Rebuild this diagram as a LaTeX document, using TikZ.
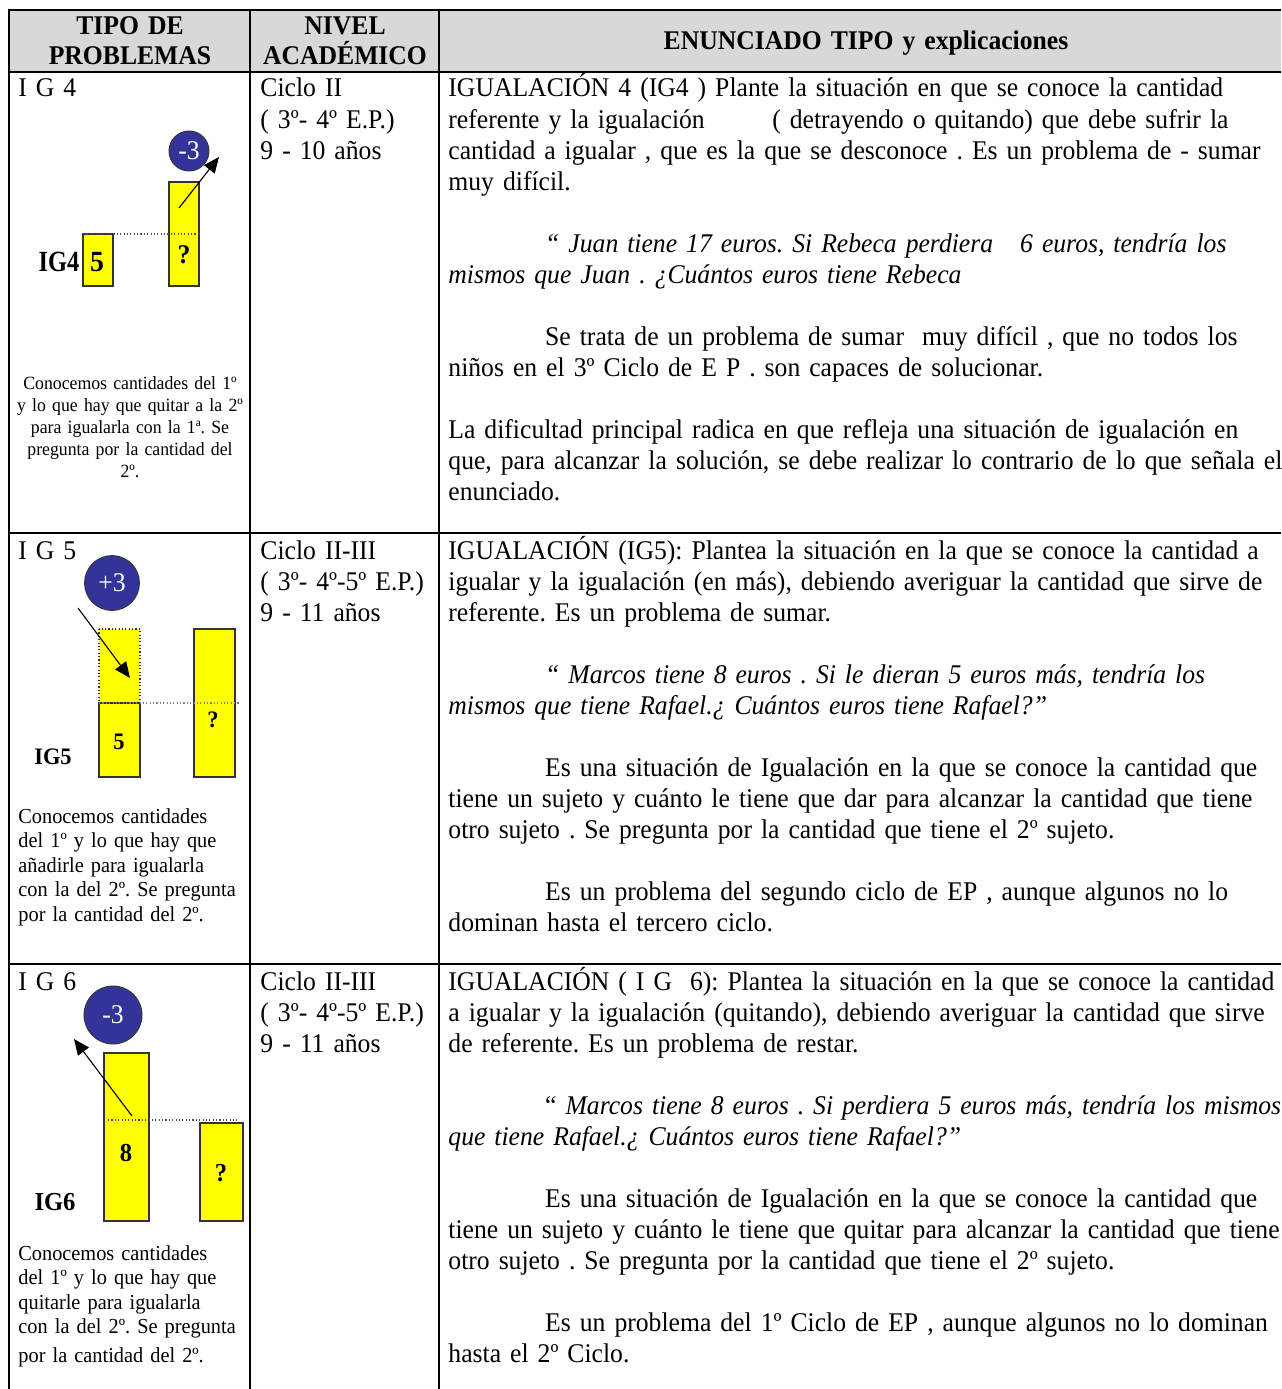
\documentclass[tikz,border=0pt]{standalone}
\usepackage{fontspec}
\setmainfont{Liberation Serif}[FakeStretch=0.95]
\usetikzlibrary{arrows.meta}
\definecolor{headgray}{RGB}{216,216,216}
\definecolor{coinblue}{RGB}{51,51,153}
\definecolor{baryellow}{RGB}{255,255,0}
\newcommand{\sangria}{\hspace*{43pt}}
\frenchspacing

\begin{document}
\begin{tikzpicture}[x=0.4444pt,y=-0.4444pt,
  rule/.style={line width=1.2pt},
  txt/.style={anchor=base west,align=left,text width=400pt,inner sep=0pt,font=\fontsize{12}{13.8}\selectfont},
  head/.style={anchor=base,align=center,text width=200pt,inner sep=0pt,font=\fontsize{12}{13.3}\selectfont\bfseries},
  bar/.style={draw=black!80,fill=baryellow,line width=0.5pt},
  coin/.style={circle,draw=black!80,fill=coinblue,text=white,inner sep=0pt,font=\fontsize{12}{12}\selectfont},
  num/.style={inner sep=0pt,font=\fontsize{12}{12}\selectfont\bfseries},
  level/.style={densely dotted,line width=0.5pt,black!70},
  push/.style={-{Triangle[length=7pt,width=6pt]},line width=0.5pt}]
\useasboundingbox (0,0) rectangle (1281,1389);

% Cabecera
\fill[headgray] (9,10) rectangle (1281,72);
\node[head] (h1) at (130,35) {TIPO DE\\PROBLEMAS};
\node[head] (h2) at (345,35) {NIVEL\\ACADÉMICO};
\node[head] (h3) at (866,50) {ENUNCIADO TIPO y explicaciones};

% Rejilla
\draw[rule] (1281,10) -- (9,10) -- (9,1389);
\draw[rule] (250,10) -- (250,1389);
\draw[rule] (439,10) -- (439,1389);
\draw[rule] (9,72) -- (1281,72);
\draw[rule] (9,533) -- (1281,533);
\draw[rule] (9,964) -- (1281,964);

% IG4
\node[txt] (t4) at (18,97) {I G 4};
\node[coin,minimum size=17.8pt] (c4) at (189,151) {-3};
\draw[bar] (83,234) rectangle (113,286);
\draw[bar] (169,182) rectangle (199,286);
\draw[level] (83,234) -- (199,234);
\node[num,font=\fontsize{13}{13}\selectfont\bfseries] (n4a) at (97,262) {5};
\node[num] (n4b) at (184,255) {?};
\node[num,font=\fontsize{13}{13}\selectfont\bfseries] (g4) at (59,262) {\scalebox{0.88}[1]{IG4}};
\coordinate (a4s) at (179,208);
\coordinate (a4e) at (219,157);
\draw[push] (a4s) -- (a4e);
\node[anchor=base,align=center,text width=110pt,inner sep=0pt,font=\fontsize{8.3}{9.8}\selectfont] (k4) at (130,389)
  {Conocemos cantidades del 1º\\y lo que hay que quitar a la 2º\\para igualarla con la 1ª. Se\\pregunta por la cantidad del\\2º.};
\node[txt] (l4) at (260,97) {Ciclo II\\( 3º- 4º E.P.)\\9 - 10 años};
\node[txt] (e4) at (448,97) {IGUALACIÓN 4 (IG4 ) Plante la situación en que se conoce la cantidad\\
referente y la igualación\hspace{26pt} ( detrayendo o quitando) que debe sufrir la\\
cantidad a igualar , que es la que se desconoce . Es un problema de - sumar\\
muy difícil.\\[13.8pt]
\sangria\textit{“ Juan tiene 17 euros. Si Rebeca perdiera\ \ \ 6 euros, tendría los}\\
\textit{mismos que Juan . ¿Cuántos euros tiene Rebeca}\\[13.8pt]
\sangria Se trata de un problema de sumar\ \ muy difícil , que no todos los\\
niños en el 3º Ciclo de E P . son capaces de solucionar.\\[13.8pt]
La dificultad principal radica en que refleja una situación de igualación en\\
que, para alcanzar la solución, se debe realizar lo contrario de lo que señala el\\
enunciado.};

% IG5
\node[txt] (t5) at (18,559) {I G 5};
\node[coin,minimum size=24.4pt] (c5) at (112,583) {+3};
\draw[bar,densely dotted] (99,629) rectangle (140,703);
\draw[bar] (99,703) rectangle (140,777);
\draw[bar] (194,629) rectangle (235,777);
\draw[level,black!50] (99,703) -- (239,703);
\node[num,font=\fontsize{10.5}{10.5}\selectfont\bfseries] (n5a) at (119,742) {5};
\node[num,font=\fontsize{10.5}{10.5}\selectfont\bfseries] (n5b) at (213,720) {?};
\node[num,font=\fontsize{10.5}{10.5}\selectfont\bfseries] (g5) at (53,757) {IG5};
\coordinate (a5s) at (78,608);
\coordinate (a5e) at (130,678);
\draw[push] (a5s) -- (a5e);
\node[txt,font=\fontsize{9.5}{10.9}\selectfont] (k5) at (18,823)
  {Conocemos cantidades\\del 1º y lo que hay que\\añadirle para igualarla\\con la del 2º. Se pregunta\\por la cantidad del 2º.};
\node[txt] (l5) at (260,559) {Ciclo II-III\\( 3º- 4º-5º E.P.)\\9 - 11 años};
\node[txt] (e5) at (448,559) {IGUALACIÓN (IG5): Plantea la situación en la que se conoce la cantidad a\\
igualar y la igualación (en más), debiendo averiguar la cantidad que sirve de\\
referente. Es un problema de sumar.\\[13.8pt]
\sangria\textit{“ Marcos tiene 8 euros . Si le dieran 5 euros más, tendría los}\\
\textit{mismos que tiene Rafael.¿ Cuántos euros tiene Rafael?”}\\[13.8pt]
\sangria Es una situación de Igualación en la que se conoce la cantidad que\\
tiene un sujeto y cuánto le tiene que dar para alcanzar la cantidad que tiene\\
otro sujeto . Se pregunta por la cantidad que tiene el 2º sujeto.\\[13.8pt]
\sangria Es un problema del segundo ciclo de EP , aunque algunos no lo\\
dominan hasta el tercero ciclo.};

% IG6
\node[txt] (t6) at (18,990) {I G 6};
\node[coin,minimum size=25.8pt] (c6) at (113,1015) {-3};
\draw[bar] (104,1053) rectangle (149,1221);
\draw[bar] (200,1123) rectangle (243,1221);
\draw[level] (108,1120) -- (238,1120);
\node[num,font=\fontsize{11.5}{11.5}\selectfont\bfseries] (n6a) at (126,1153) {8};
\node[num,font=\fontsize{11.5}{11.5}\selectfont\bfseries] (n6b) at (221,1173) {?};
\node[num,font=\fontsize{11.5}{11.5}\selectfont\bfseries] (g6) at (55,1202) {IG6};
\coordinate (a6s) at (132,1116);
\coordinate (a6e) at (74,1039);
\draw[push] (a6s) -- (a6e);
\node[txt,font=\fontsize{9.5}{10.9}\selectfont] (k6) at (18,1260)
  {Conocemos cantidades\\del 1º y lo que hay que\\quitarle para igualarla\\con la del 2º. Se pregunta\\[2pt]por la cantidad del 2º.};
\node[txt] (l6) at (260,990) {Ciclo II-III\\( 3º- 4º-5º E.P.)\\9 - 11 años};
\node[txt] (e6) at (448,990) {IGUALACIÓN ( I G\ \ 6): Plantea la situación en la que se conoce la cantidad\\
a igualar y la igualación (quitando), debiendo averiguar la cantidad que sirve\\
de referente. Es un problema de restar.\\[13.8pt]
\sangria“ \textit{Marcos tiene 8 euros . Si perdiera 5 euros más, tendría los mismos}\\
\textit{que tiene Rafael.¿ Cuántos euros tiene Rafael?”}\\[13.8pt]
\sangria Es una situación de Igualación en la que se conoce la cantidad que\\
tiene un sujeto y cuánto le tiene que quitar para alcanzar la cantidad que tiene\\
otro sujeto . Se pregunta por la cantidad que tiene el 2º sujeto.\\[13.8pt]
\sangria Es un problema del 1º Ciclo de EP , aunque algunos no lo dominan\\
hasta el 2º Ciclo.};
\end{tikzpicture}
\end{document}
